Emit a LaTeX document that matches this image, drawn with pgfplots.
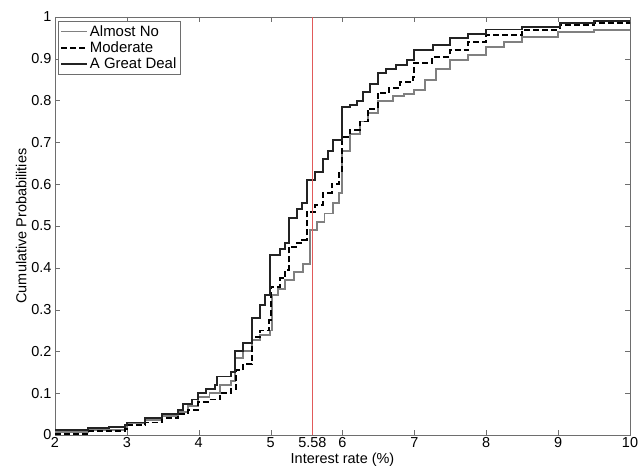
\documentclass[border=0pt]{standalone}
\usepackage{fontspec}
\setmainfont{Liberation Sans}
\usepackage{pgfplots}
\pgfplotsset{compat=1.18}
\definecolor{almostno}{RGB}{128,128,128}
\definecolor{greatdeal}{RGB}{35,35,35}
\definecolor{cutline}{RGB}{225,90,90}
\definecolor{axisgray}{RGB}{110,110,110}

\begin{document}
\begin{tikzpicture}
\begin{axis}[
    scale only axis,
    width=575bp, height=418bp,
    xmin=2, xmax=10, ymin=0, ymax=1,
    xtick={2,3,4,5,5.58,6,7,8,9,10},
    xticklabels={2,3,4,5,5.58,6,7,8,9,10},
    ytick={0,0.1,0.2,0.3,0.4,0.5,0.6,0.7,0.8,0.9,1},
    yticklabels={0,0.1,0.2,0.3,0.4,0.5,0.6,0.7,0.8,0.9,1},
    tick align=inside,
    major tick length=5bp,
    axis line style={axisgray, line width=0.9bp},
    tick style={axisgray},
    tick label style={font=\fontsize{14.5}{16}\selectfont},
    xticklabel style={yshift=-2bp, inner sep=0.5bp},
    label style={font=\fontsize{14.5}{16}\selectfont},
    xlabel={Interest rate (\%)},
    ylabel={Cumulative Probabilities},
    xlabel style={yshift=-3bp, inner sep=1bp},
    ylabel style={yshift=-2bp},
    legend cell align=left,
    legend style={at={(0.005,0.99)}, anchor=north west, draw=axisgray,
        font=\fontsize{15}{17}\selectfont, inner sep=2bp, row sep=0bp},
    legend image code/.code={\draw[#1] (0bp,0bp) -- (26bp,0bp);},
]
\addplot[const plot, almostno, line width=1.9bp] coordinates {
(2,0.008) (2.46,0.012) (2.97,0.018) (3.0,0.028) (3.25,0.035) (3.49,0.045)
(3.71,0.055) (3.85,0.07) (3.99,0.09) (4.15,0.10) (4.3,0.12) (4.45,0.13)
(4.5,0.185) (4.62,0.2) (4.74,0.227) (4.85,0.24) (4.99,0.25) (5.02,0.335)
(5.1,0.35) (5.2,0.37) (5.32,0.39) (5.45,0.41) (5.55,0.49) (5.65,0.51)
(5.75,0.53) (5.87,0.555) (5.95,0.58) (5.99,0.68) (6.1,0.72) (6.24,0.75)
(6.35,0.77) (6.5,0.80) (6.7,0.81) (6.85,0.815) (7.0,0.825) (7.15,0.85)
(7.3,0.875) (7.49,0.897) (7.75,0.91) (8.0,0.928) (8.25,0.94) (8.5,0.952)
(9.0,0.964) (9.5,0.968) (10,0.97)};
\addlegendentry{Almost No}
\addplot[const plot, black, dash pattern=on 6bp off 3bp, line width=1.9bp] coordinates {
(2,0.003) (2.46,0.01) (2.97,0.015) (3.0,0.025) (3.25,0.03) (3.49,0.04)
(3.71,0.05) (3.85,0.06) (3.99,0.08) (4.15,0.085) (4.3,0.10) (4.45,0.11)
(4.52,0.155) (4.62,0.17) (4.74,0.235) (4.85,0.25) (4.98,0.275) (5.0,0.355)
(5.13,0.375) (5.2,0.395) (5.25,0.45) (5.37,0.46) (5.44,0.467) (5.50,0.534)
(5.62,0.55) (5.73,0.58) (5.85,0.60) (5.95,0.627) (5.99,0.713) (6.1,0.73)
(6.24,0.75) (6.35,0.78) (6.49,0.818) (6.65,0.83) (6.8,0.845) (6.98,0.857)
(7.0,0.89) (7.25,0.905) (7.49,0.92) (7.75,0.94) (8.0,0.957) (8.5,0.969)
(9.02,0.98) (9.5,0.985) (10,0.99)};
\addlegendentry{Moderate}
\addplot[const plot, greatdeal, line width=1.9bp] coordinates {
(2,0.012) (2.46,0.016) (2.75,0.02) (2.97,0.024) (3.0,0.03) (3.25,0.04)
(3.49,0.05) (3.71,0.06) (3.78,0.075) (3.9,0.085) (3.99,0.10) (4.1,0.11)
(4.22,0.12) (4.25,0.14) (4.45,0.15) (4.5,0.20) (4.62,0.22) (4.74,0.28)
(4.85,0.31) (4.92,0.335) (4.99,0.43) (5.13,0.445) (5.2,0.46) (5.25,0.52)
(5.37,0.54) (5.44,0.555) (5.50,0.61) (5.62,0.63) (5.73,0.66) (5.8,0.68)
(5.87,0.705) (5.99,0.785) (6.1,0.79) (6.2,0.80) (6.28,0.82) (6.38,0.84)
(6.49,0.866) (6.6,0.875) (6.75,0.885) (6.9,0.897) (7.0,0.92) (7.26,0.933)
(7.49,0.95) (7.75,0.96) (8.0,0.97) (8.5,0.977) (9.02,0.985) (9.5,0.99)
(10,0.99)};
\addlegendentry{A Great Deal}
\addplot[cutline, line width=0.9bp, forget plot] coordinates {(5.58,0) (5.58,1)};
\end{axis}
\pgfresetboundingbox
\path[use as bounding box] ([xshift=-55bp,yshift=-37bp]current axis.south west)
    rectangle ([xshift=9bp,yshift=17bp]current axis.north east);
\end{tikzpicture}
\end{document}
